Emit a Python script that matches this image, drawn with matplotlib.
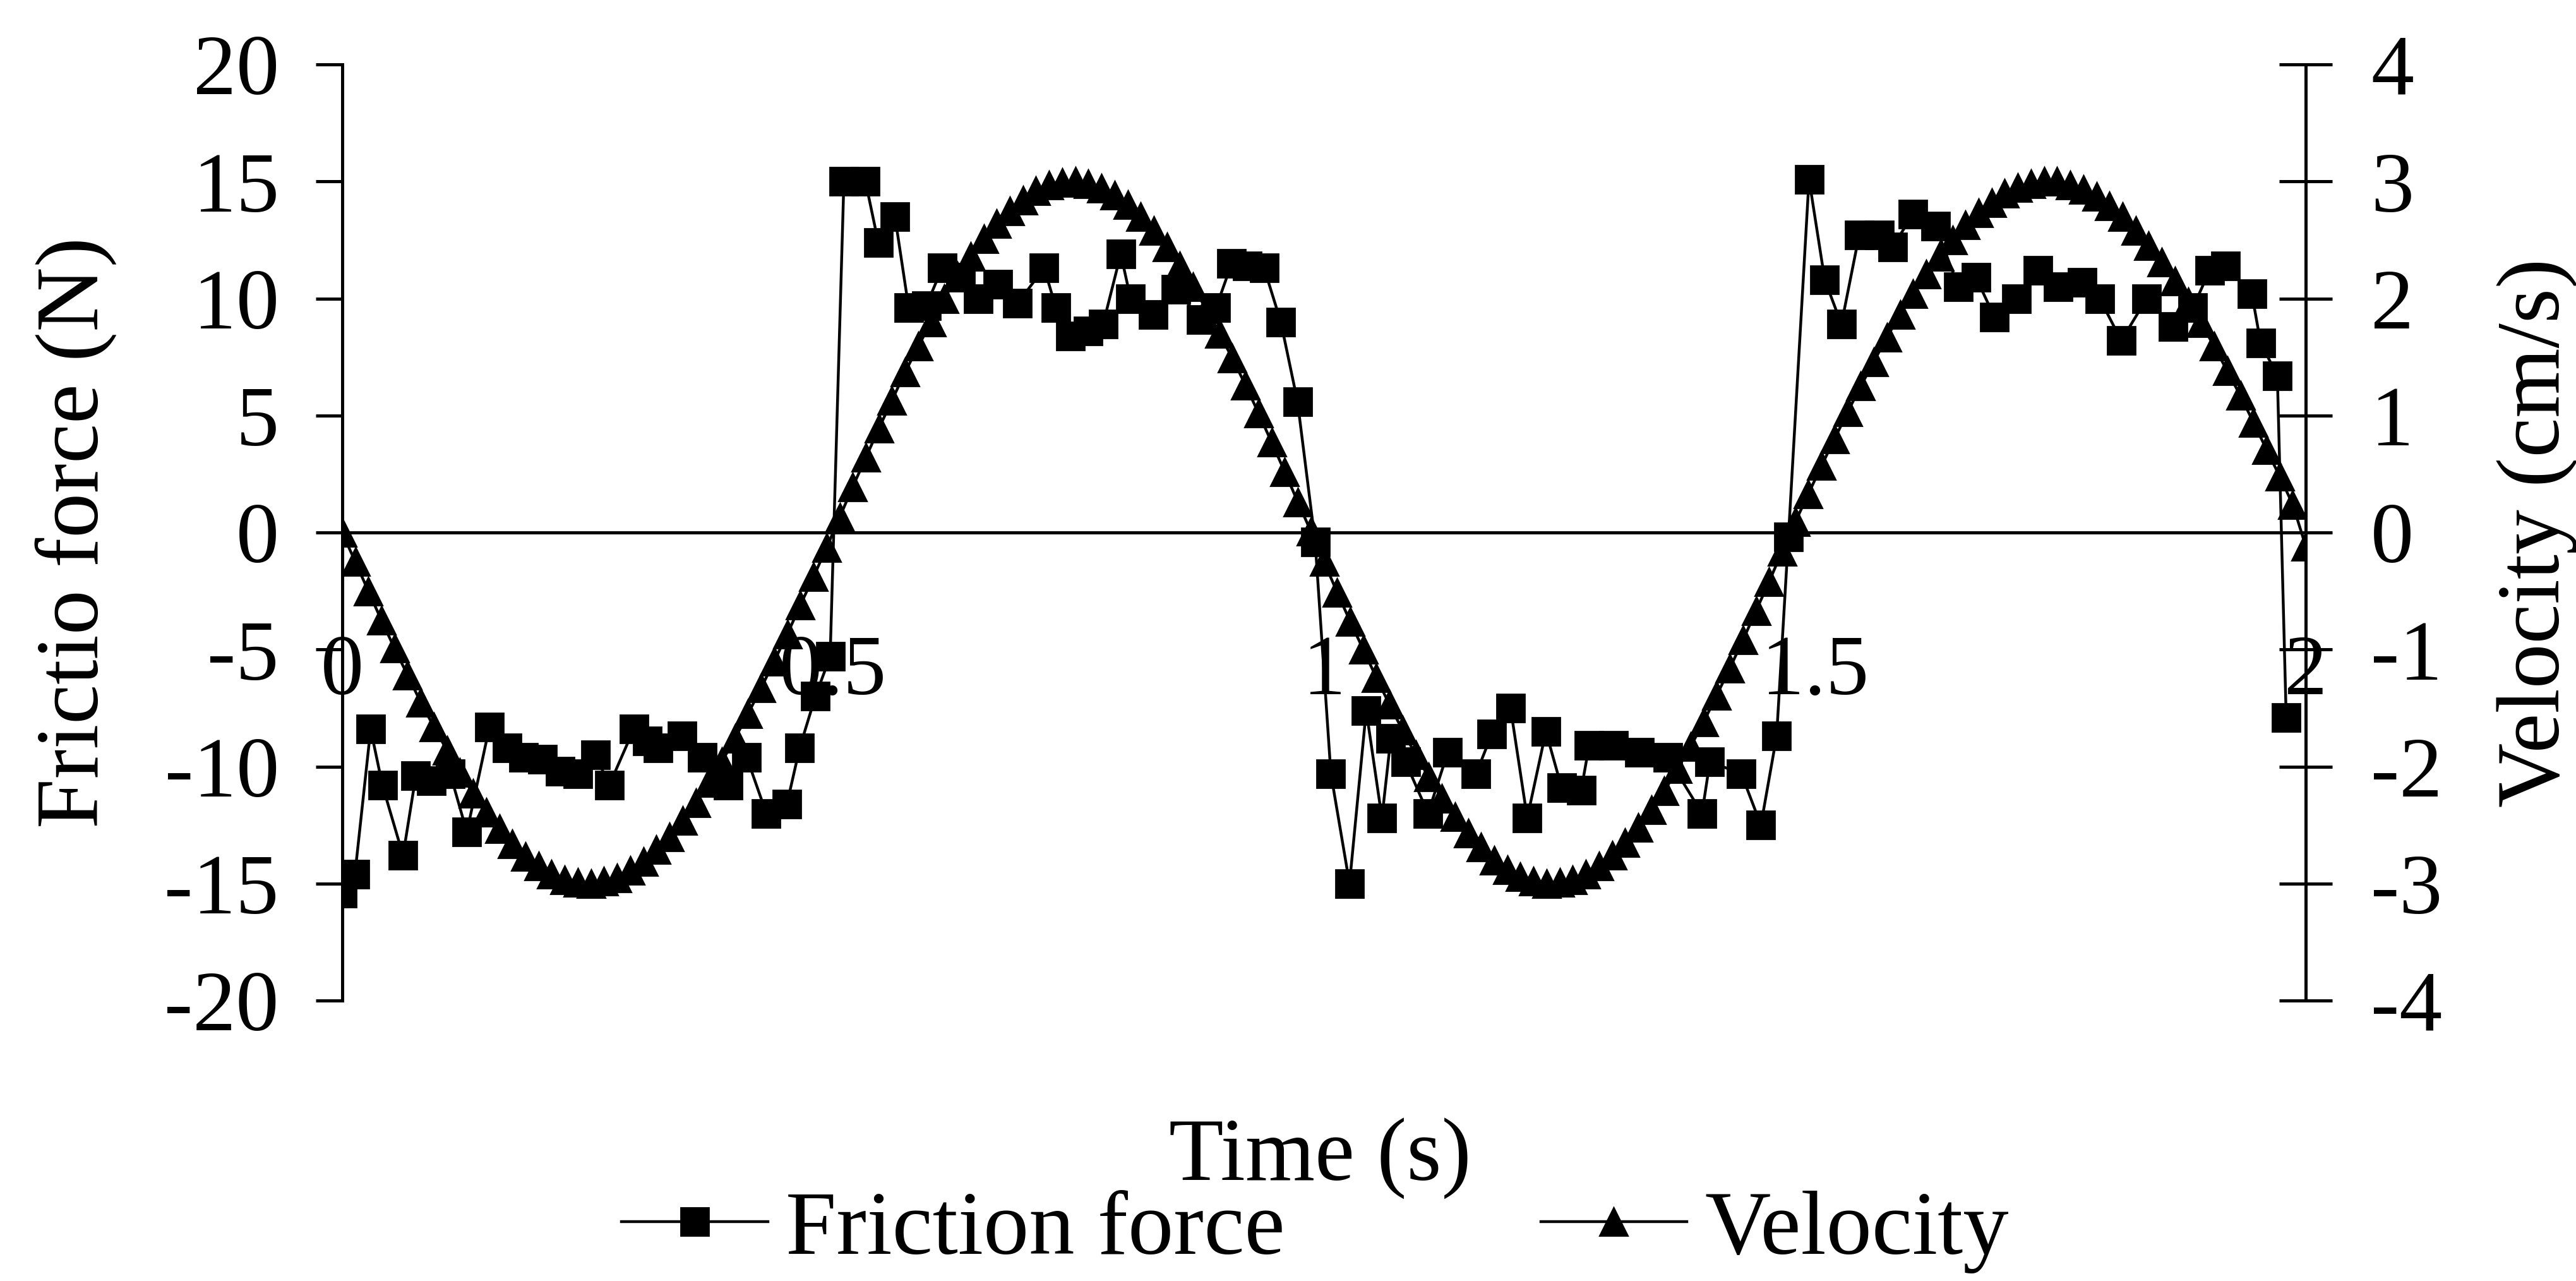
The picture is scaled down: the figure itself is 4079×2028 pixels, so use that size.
import numpy as np
import matplotlib
matplotlib.use("Agg")
import matplotlib.pyplot as plt

plt.rcParams["font.family"] = ["Liberation Serif", "DejaVu Serif"]
plt.rcParams["axes.unicode_minus"] = False

# friction force samples (s, N), one list pair per half cycle joined below
friction_t = [
    0.000, 0.013, 0.029, 0.041, 0.062, 0.075, 0.091, 0.110, 0.127, 0.150,
    0.168, 0.185, 0.204, 0.222, 0.240, 0.258, 0.272, 0.297, 0.311, 0.322,
    0.346, 0.367, 0.393, 0.412, 0.432, 0.453, 0.466, 0.482, 0.497,
    0.511, 0.533, 0.546, 0.563, 0.577, 0.595, 0.611, 0.630, 0.648, 0.668,
    0.688, 0.715, 0.727, 0.742, 0.760, 0.775, 0.793, 0.803, 0.826, 0.849,
    0.875, 0.890, 0.906, 0.922, 0.939, 0.956, 0.973, 0.991,
    1.007, 1.026, 1.043, 1.059, 1.068, 1.083, 1.106, 1.126, 1.155, 1.171,
    1.190, 1.207, 1.226, 1.242, 1.262, 1.270, 1.295, 1.321, 1.350, 1.385,
    1.393, 1.425, 1.445, 1.461, 1.473,
    1.494, 1.510, 1.527, 1.545, 1.566, 1.579, 1.600, 1.623, 1.646, 1.664,
    1.683, 1.705, 1.727, 1.748, 1.772, 1.790, 1.812, 1.838, 1.865, 1.885,
    1.902, 1.918, 1.945, 1.954, 1.971, 1.980,
]
friction = [
    -15.4, -14.6, -8.4, -10.8, -13.8, -10.4, -10.6, -10.3, -12.8, -8.3,
    -9.2, -9.6, -9.7, -10.2, -10.3, -9.5, -10.8, -8.4, -8.9, -9.2,
    -8.7, -9.6, -10.8, -9.6, -12.0, -11.6, -9.2, -7.0, -5.3,
    15.0, 15.0, 12.4, 13.5, 9.6, 9.7, 11.3, 10.9, 10.0, 10.6,
    9.8, 11.3, 9.6, 8.4, 8.6, 8.9, 11.9, 10.0, 9.3, 10.4,
    9.1, 9.6, 11.5, 11.4, 11.3, 9.0, 5.6, -0.4,
    -10.3, -15.0, -7.6, -12.2, -8.8, -9.8, -12.0, -9.4, -10.3, -8.6,
    -7.5, -12.2, -8.5, -10.9, -11.0, -9.1, -9.1, -9.4, -9.6, -12.0,
    -9.8, -10.3, -12.5, -8.7, -0.2,
    15.1, 10.8, 8.9, 12.7, 12.7, 12.2, 13.6, 13.1, 10.5, 10.9,
    9.2, 10.0, 11.2, 10.5, 10.7, 10.0, 8.2, 10.0, 8.8, 9.6,
    11.2, 11.4, 10.2, 8.1, 6.7, -7.9,
]

# velocity (cm/s), sampled every 1/75 s from 0 to 2 s
velocity_dt = 1 / 75
velocity = [
    0.00, -0.25, -0.50, -0.75, -0.99, -1.22, -1.45, -1.66, -1.86, -2.05,
    -2.23, -2.39, -2.53, -2.66, -2.77, -2.85, -2.92, -2.97, -2.99, -3.00,
    -2.98, -2.95, -2.89, -2.81, -2.71, -2.60, -2.46, -2.31, -2.14, -1.96,
    -1.76, -1.55, -1.33, -1.10, -0.87, -0.62, -0.38, -0.13,
    0.13, 0.39, 0.64, 0.89, 1.13, 1.37, 1.59, 1.80, 2.00, 2.19,
    2.36, 2.51, 2.64, 2.75, 2.84, 2.92, 2.97, 2.99, 3.00, 2.98,
    2.94, 2.88, 2.80, 2.70, 2.58, 2.44, 2.28, 2.10, 1.91, 1.70,
    1.49, 1.26, 1.02, 0.77, 0.52, 0.26, 0.01,
    -0.25, -0.51, -0.76, -1.00, -1.24, -1.47, -1.69, -1.90, -2.09, -2.27,
    -2.43, -2.57, -2.69, -2.80, -2.88, -2.94, -2.98, -3.00, -2.99, -2.97,
    -2.92, -2.85, -2.76, -2.65, -2.52, -2.37, -2.21, -2.02, -1.83, -1.62,
    -1.39, -1.16, -0.92, -0.67, -0.42, -0.16,
    0.09, 0.33, 0.57, 0.80, 1.03, 1.25, 1.46, 1.67, 1.86, 2.04,
    2.21, 2.36, 2.50, 2.63, 2.73, 2.82, 2.90, 2.95, 2.98, 3.00,
    3.00, 2.97, 2.93, 2.87, 2.79, 2.70, 2.58, 2.45, 2.31, 2.15,
    1.97, 1.79, 1.59, 1.38, 1.17, 0.94, 0.71, 0.48, 0.24, -0.12,
]
velocity_t = np.arange(len(velocity)) * velocity_dt

x_ticks = [0, 0.5, 1, 1.5, 2]
x_tick_labels = ["0", "0.5", "1", "1.5", "2"]
force_ticks = [-20, -15, -10, -5, 0, 5, 10, 15, 20]
vel_ticks = [-4, -3, -2, -1, 0, 1, 2, 3, 4]

fig = plt.figure(figsize=(20.4, 10.14), dpi=200)
ax = fig.add_axes([0.1328, 0.2189, 0.8949 - 0.1328, 0.9497 - 0.2189])
ax2 = ax.twinx()

lw = 1.6
ms = 16
(l_force,) = ax.plot(friction_t, friction, color="black", lw=lw, marker="s",
                     ms=ms, mec="black", mfc="black", zorder=3)
(l_vel,) = ax2.plot(velocity_t, velocity, color="black", lw=lw, marker="^",
                    ms=ms, mec="black", mfc="black", zorder=3)

ax.set_xlim(0, 2)
ax.set_ylim(-20, 20)
ax2.set_ylim(-4, 4)

# x axis sits on the zero line, no tick marks
ax.spines["bottom"].set_position(("data", 0))
ax.spines["top"].set_visible(False)
ax.spines["right"].set_visible(False)
for name in ("top", "bottom", "left"):
    ax2.spines[name].set_visible(False)
for sp in (ax.spines["left"], ax.spines["bottom"], ax2.spines["right"]):
    sp.set_linewidth(1.8)

ax.set_xticks(x_ticks)
ax.set_xticklabels(x_tick_labels)
ax.tick_params(axis="x", length=0, pad=58, labelsize=49)
ax.set_yticks(force_ticks)
ax.tick_params(axis="y", direction="out", length=15, width=1.8, pad=21,
               labelsize=49)
ax2.set_yticks(vel_ticks)
ax2.tick_params(axis="y", direction="inout", length=30, width=1.8, pad=22,
                labelsize=49)
ax2.tick_params(axis="x", bottom=False, labelbottom=False)

ax.set_ylabel("Frictio force (N)", fontsize=51, labelpad=27)
ax2.set_ylabel("Velocity (cm/s)", fontsize=51, labelpad=31)
fig.text(0.5123, 0.0957, "Time (s)", fontsize=51, ha="center", va="center")

fig.legend([l_force, l_vel], ["Friction force", "Velocity"], loc="center",
           bbox_to_anchor=(0.5105, 0.0385), ncol=2, frameon=False,
           fontsize=52, numpoints=1, handlelength=1.6, handletextpad=0.2,
           columnspacing=2.8, borderpad=0)

fig.savefig("out.png", dpi=200)
